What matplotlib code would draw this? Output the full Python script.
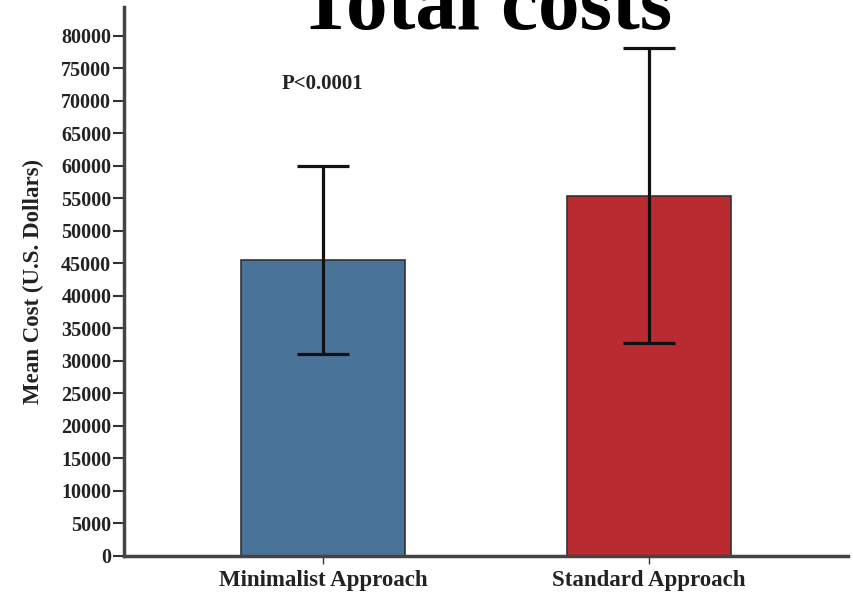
import numpy as np
import matplotlib.pyplot as plt

groups = ['Minimalist Approach', 'Standard Approach']
mean_cost = [45500, 55400]
ci_low = [31100, 32800]
ci_high = [60000, 78100]
bar_colors = ['#4a7399', '#b92b31']
yticks = np.arange(0, 80001, 5000)

plt.rcParams['font.family'] = ['Liberation Serif', 'DejaVu Serif']

fig = plt.figure(figsize=(8.54, 5.99), dpi=100)
ax = fig.add_axes([0.145, 0.0718, 0.848, 0.916])

x = np.arange(len(groups))
means = np.array(mean_cost)
err = np.vstack([means - np.array(ci_low), np.array(ci_high) - means])

ax.bar(x, means, width=0.503, color=bar_colors, edgecolor='#333333', linewidth=1.2, zorder=2)
ax.errorbar(x, means, yerr=err, fmt='none', ecolor='#111111', elinewidth=2.3,
            capsize=19, capthick=2.3, zorder=3)

ax.set_xlim(-0.61, 1.61)
ax.set_ylim(0, 84400)
ax.set_yticks(yticks)
ax.set_yticklabels([str(v) for v in yticks], fontsize=14.5, fontweight='bold', color='#222222')
ax.set_xticks(x)
ax.set_xticklabels(groups, fontsize=16.5, fontweight='bold', color='#222222')
ax.tick_params(axis='y', direction='out', length=8, width=1.5, color='#333333', pad=1)
ax.tick_params(axis='x', direction='out', length=6, width=1, color='#333333', pad=4)

for side in ['top', 'right']:
    ax.spines[side].set_visible(False)
for side in ['left', 'bottom']:
    ax.spines[side].set_linewidth(2.5)
    ax.spines[side].set_color('#444444')

ax.set_ylabel('Mean Cost (U.S. Dollars)', fontsize=16.5, fontweight='bold', color='#222222', labelpad=12)

ax.text(0, 72600, 'P<0.0001', ha='center', va='center', fontsize=15, fontweight='bold', color='#222222')

fig.text(0.568, 0.951, 'Total costs', ha='center', va='baseline', fontsize=60, fontweight='bold', color='black')

fig.savefig('out.png', dpi=100)
